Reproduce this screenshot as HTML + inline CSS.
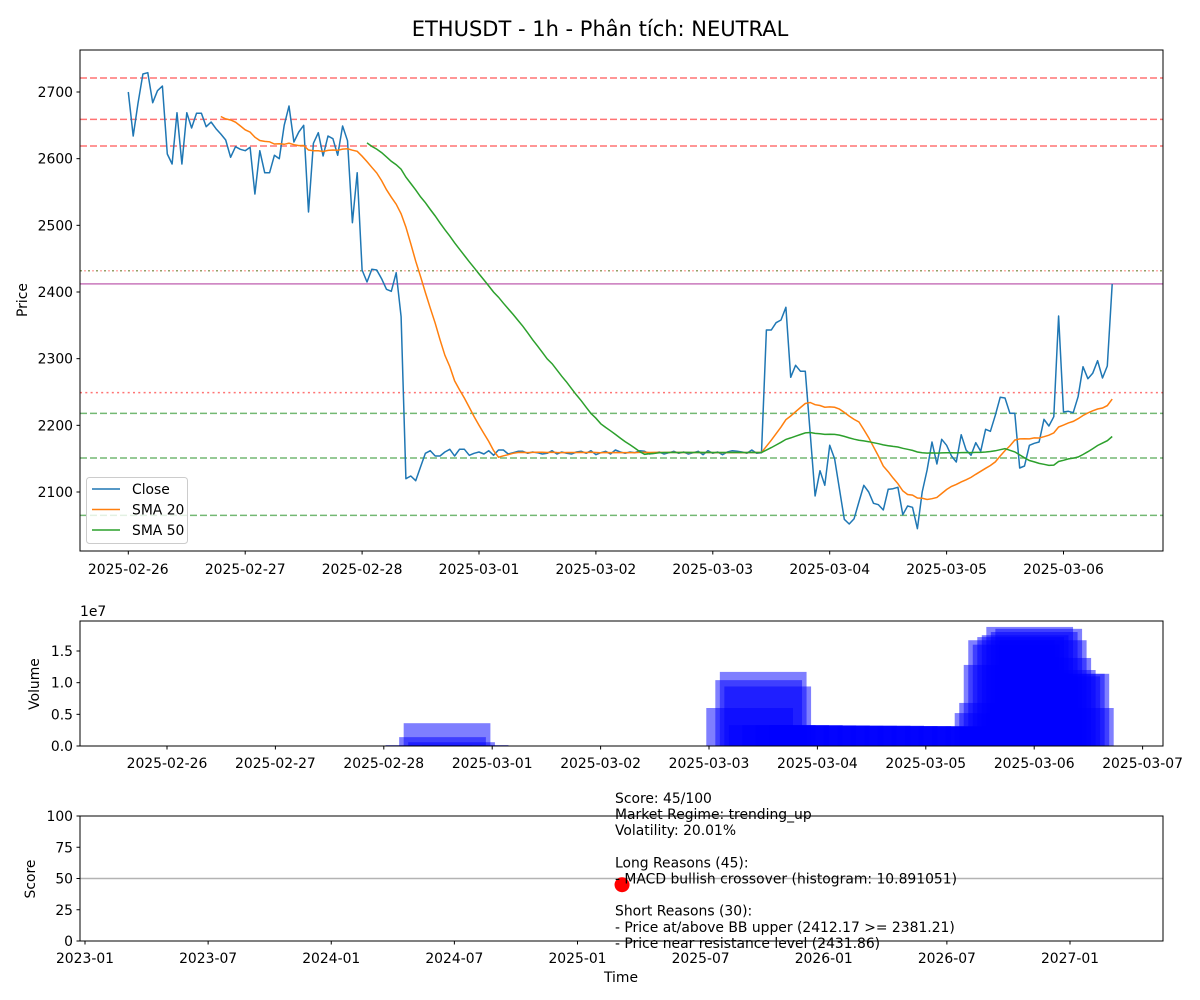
<!DOCTYPE html>
<html><head><meta charset="utf-8"><style>
html,body{margin:0;padding:0;background:#fff;}
svg{display:block;font-family:"DejaVu Sans","Liberation Sans",sans-serif;}
</style></head><body>
<svg id="chart" width="1200" height="1000" viewBox="0 0 1200 1000" xmlns="http://www.w3.org/2000/svg">
<rect x="0" y="0" width="1200" height="1000" fill="#fff"/>
<text x="600" y="36" font-size="21" text-anchor="middle">ETHUSDT - 1h - Phân tích: NEUTRAL</text>
<g id="main"></g>
<g id="vol"></g>
<g id="score"></g>
</svg>
<script>
const closeValues = [2700,2634,2683,2727,2729,2684,2702,2709,2607,2592,
2669,2592,2669,2646,2668,2668,2648,2655,2645,2637,
2628,2602,2618,2614,2612,2617,2547,2612,2579,2579,
2605,2600,2650,2679,2625,2640,2650,2520,2623,2639,
2604,2634,2630,2605,2649,2627,2504,2579,2433,2415,
2434,2433,2420,2404,2401,2429,2363,2120,2124,2117,
2138,2158,2162,2154,2154,2160,2164,2154,2164,2164,2155,
2158,2160,2157,2162,2155,2163,2163,2157,2159,2161,
2161,2158,2160,2159,2157,2158,2162,2157,2160,2158,
2157,2160,2161,2158,2162,2156,2159,2161,2157,2163,
2160,2158,2160,2159,2162,2161,2157,2158,2160,2157,
2159,2161,2158,2160,2157,2159,2161,2156,2162,2158,
2160,2156,2160,2162,2161,2160,2158,2163,2158,2159,
2343,2343,2354,2358,2377,2272,2290,2281,2281,2188,
2094,2132,2110,2170,2150,2105,2059,2052,2060,2085,
2110,2100,2083,2081,2073,2104,2105,2107,2066,2079,
2077,2045,2100,2133,2175,2142,2179,2170,2154,2145,
2186,2163,2155,2174,2161,2194,2191,2215,2242,2241,
2218,2218,2136,2139,2170,2173,2175,2209,2199,2213,
2364,2220,2221,2219,2243,2288,2270,2278,2297,2271,
2289,2412.17];
const smaWindows = [20, 50];
const resistanceLevels = [2721, 2659, 2619];
const supportLevels = [2218, 2151, 2065];
const bbUpper = 2249;
const nearResistance = 2431.86;
const currentPrice = 2412.17;
const priceTicks = [2100,2200,2300,2400,2500,2600,2700];
const dayLabels = ['2025-02-26','2025-02-27','2025-02-28','2025-03-01','2025-03-02','2025-03-03','2025-03-04','2025-03-05','2025-03-06'];
const volDayLabels = ['2025-02-26','2025-02-27','2025-02-28','2025-03-01','2025-03-02','2025-03-03','2025-03-04','2025-03-05','2025-03-06','2025-03-07'];
const volHours = [58,61,62,63,66,129,131,132,133,134,137,140,143,146,149,152,155,158,161,164,167,170,173,176,179,182,184,185,186,187,188,189,190,191,192,193,194,195,196,197,198,199,200];
const volValues = [0.15,1.4,3.6,0.6,0.15,6.0,10.4,11.7,9.4,3.3,3.3,3.3,3.25,3.25,3.2,3.2,3.2,3.2,3.15,3.15,3.1,3.1,3.1,3.1,3.1,3.1,5.2,6.8,12.8,16.7,16.0,17.2,17.5,18.8,18.0,18.5,16.7,13.9,12.0,11.0,11.4,11.4,6.0];
const volTicks = [0,0.5,1.0,1.5];
const scoreTicks = [0,25,50,75,100];
const monthLabels = ['2023-01','2023-07','2024-01','2024-07','2025-01','2025-07','2026-01','2026-07','2027-01'];
const scoreValue = 45;
const scoreMonth = 26.17;
const infoLines = ['Score: 45/100','Market Regime: trending_up','Volatility: 20.01%','','Long Reasons (45):','- MACD bullish crossover (histogram: 10.891051)','','Short Reasons (30):','- Price at/above BB upper (2412.17 >= 2381.21)','- Price near resistance level (2431.86)'];

const NS='http://www.w3.org/2000/svg';
function mk(parent, tag, attrs, text){
  const e=document.createElementNS(NS,tag);
  for(const k in attrs) e.setAttribute(k,attrs[k]);
  if(text!==undefined) e.textContent=text;
  parent.appendChild(e); return e;
}
// ---------- main panel ----------
const M={l:80,r:1163,t:50,b:551};
const yP=v=>92+(2700-v)*(400/600);
const xH=h=>128.3+h*(116.9/24);
const main=document.getElementById('main');
function hline(v,color,dash,w,name,op){
  const l=mk(main,'line',{x1:M.l,x2:M.r,y1:yP(v),y2:yP(v),stroke:color,'stroke-width':w,'stroke-dasharray':dash,'stroke-opacity':op||0.55});
  
  
}
resistanceLevels.forEach((v,i)=>hline(v,'#ff0000','7,3',1.5,'resistance-line-'+(i+1)));
supportLevels.forEach((v,i)=>hline(v,'#008000','7,3',1.5,'support-line-'+(i+1)));
hline(bbUpper,'#ff0000','2,3.3',1.5,'bb-upper-line');
hline(nearResistance,'#ff7777','2,2',1.5,'near-resistance-line',0.6);
hline(nearResistance,'#4a9a3a','2,6',1.5,'near-resistance-line-2',0.6);
{const l=mk(main,'line',{x1:M.l,x2:M.r,y1:yP(currentPrice),y2:yP(currentPrice),stroke:'#c060b0','stroke-width':1.5,'stroke-opacity':0.85});

}
function sma(n){const out=[];for(let i=n-1;i<closeValues.length;i++){let s=0;for(let j=i-n+1;j<=i;j++)s+=closeValues[j];out.push([i,s/n]);}return out;}
function pathOf(pts){return pts.map((p,i)=>(i?'L':'M')+xH(p[0]).toFixed(1)+','+yP(p[1]).toFixed(1)).join('');}
const colors={close:'#1f77b4',s20:'#ff7f0e',s50:'#2ca02c'};
{const p=mk(main,'path',{d:pathOf(closeValues.map((v,i)=>[i,v])),fill:'none',stroke:colors.close,'stroke-width':1.5,'stroke-linejoin':'round'});

}
{const p=mk(main,'path',{d:pathOf(sma(smaWindows[0])),fill:'none',stroke:colors.s20,'stroke-width':1.5});

}
{const p=mk(main,'path',{d:pathOf(sma(smaWindows[1])),fill:'none',stroke:colors.s50,'stroke-width':1.5});

}
mk(main,'rect',{x:M.l,y:M.t,width:M.r-M.l,height:M.b-M.t,fill:'none',stroke:'#000','stroke-width':1});
priceTicks.forEach(v=>{
  mk(main,'line',{x1:M.l-3.5,x2:M.l,y1:yP(v),y2:yP(v),stroke:'#000'});
  const t=mk(main,'text',{x:M.l-7,y:yP(v)+5,'font-size':13.9,'text-anchor':'end'},v);
  
  
});
dayLabels.forEach((d,i)=>{
  const x=xH(i*24);
  mk(main,'line',{x1:x,x2:x,y1:M.b,y2:M.b+3.5,stroke:'#000'});
  const t=mk(main,'text',{x:x,y:M.b+23,'font-size':13.9,'text-anchor':'middle'},d);
  
  
});
{const t=mk(main,'text',{x:27,y:300,'font-size':13.9,'text-anchor':'middle',transform:'rotate(-90 27 300)'},'Price');
}
// legend
{const g=mk(main,'g',{});


mk(g,'rect',{x:86.5,y:477.5,width:101,height:66,rx:3,fill:'#fff','fill-opacity':0.8,stroke:'#ccc'});
[['Close',colors.close],['SMA 20',colors.s20],['SMA 50',colors.s50]].forEach((e,i)=>{
  const y=489+i*20.5;
  mk(g,'line',{x1:92,x2:120,y1:y,y2:y,stroke:e[1],'stroke-width':1.5});
  const t=mk(g,'text',{x:132,y:y+5,'font-size':13.9},e[0]);
  
  
});}
// ---------- volume ----------
const V={l:80,r:1163,t:621,b:746};
const yV=v=>746-v*(95/15);
const xV=h=>167+h*(108.4/24);
const vol=document.getElementById('vol');
const bw=0.8*108.4;
volHours.forEach((h,i)=>{
  const r=mk(vol,'rect',{x:xV(h)-bw/2,y:yV(volValues[i]),width:bw,height:746-yV(volValues[i]),fill:'#0000ff','fill-opacity':0.5});
  
  
});
mk(vol,'rect',{x:V.l,y:V.t,width:V.r-V.l,height:V.b-V.t,fill:'none',stroke:'#000'});
volTicks.forEach(v=>{
  mk(vol,'line',{x1:V.l-3.5,x2:V.l,y1:yV(v*10),y2:yV(v*10),stroke:'#000'});
  const t=mk(vol,'text',{x:V.l-7,y:yV(v*10)+5,'font-size':13.9,'text-anchor':'end'},v.toFixed(1));
  
  
});
volDayLabels.forEach((d,i)=>{
  const x=xV(i*24);
  mk(vol,'line',{x1:x,x2:x,y1:V.b,y2:V.b+3.5,stroke:'#000'});
  const t=mk(vol,'text',{x:x,y:V.b+22,'font-size':13.9,'text-anchor':'middle'},d);
  
  
});
{const t=mk(vol,'text',{x:80,y:616,'font-size':13.9},'1e7');}
{const t=mk(vol,'text',{x:39,y:684,'font-size':13.9,'text-anchor':'middle',transform:'rotate(-90 39 684)'},'Volume');
}
// ---------- score ----------
const S={l:80,r:1163,t:816,b:941};
const yS=v=>941-v*1.25;
const xM=m=>85+m*(985/48);
const sc=document.getElementById('score');
{const l=mk(sc,'line',{x1:S.l,x2:S.r,y1:yS(50),y2:yS(50),stroke:'#808080','stroke-opacity':0.6,'stroke-width':1.5});
}
{const c=mk(sc,'circle',{cx:xM(scoreMonth),cy:yS(scoreValue),r:7.5,fill:'#ff0000'});
}
mk(sc,'rect',{x:S.l,y:S.t,width:S.r-S.l,height:S.b-S.t,fill:'none',stroke:'#000'});
scoreTicks.forEach(v=>{
  mk(sc,'line',{x1:S.l-3.5,x2:S.l,y1:yS(v),y2:yS(v),stroke:'#000'});
  const t=mk(sc,'text',{x:S.l-7,y:yS(v)+5,'font-size':13.9,'text-anchor':'end'},v);
  
  
});
monthLabels.forEach((d,i)=>{
  const x=xM(i*6);
  mk(sc,'line',{x1:x,x2:x,y1:S.b,y2:S.b+3.5,stroke:'#000'});
  const t=mk(sc,'text',{x:x,y:S.b+22,'font-size':13.9,'text-anchor':'middle'},d);
  
  
});
{const t=mk(sc,'text',{x:35,y:879,'font-size':13.9,'text-anchor':'middle',transform:'rotate(-90 35 879)'},'Score');
}
{const t=mk(sc,'text',{x:621,y:982,'font-size':13.9,'text-anchor':'middle'},'Time');
}
infoLines.forEach((s,i)=>{
  if(!s) return;
  const t=mk(sc,'text',{x:615,y:803+i*16.1,'font-size':13.9},s);
  
  
});
</script>
</body></html>
